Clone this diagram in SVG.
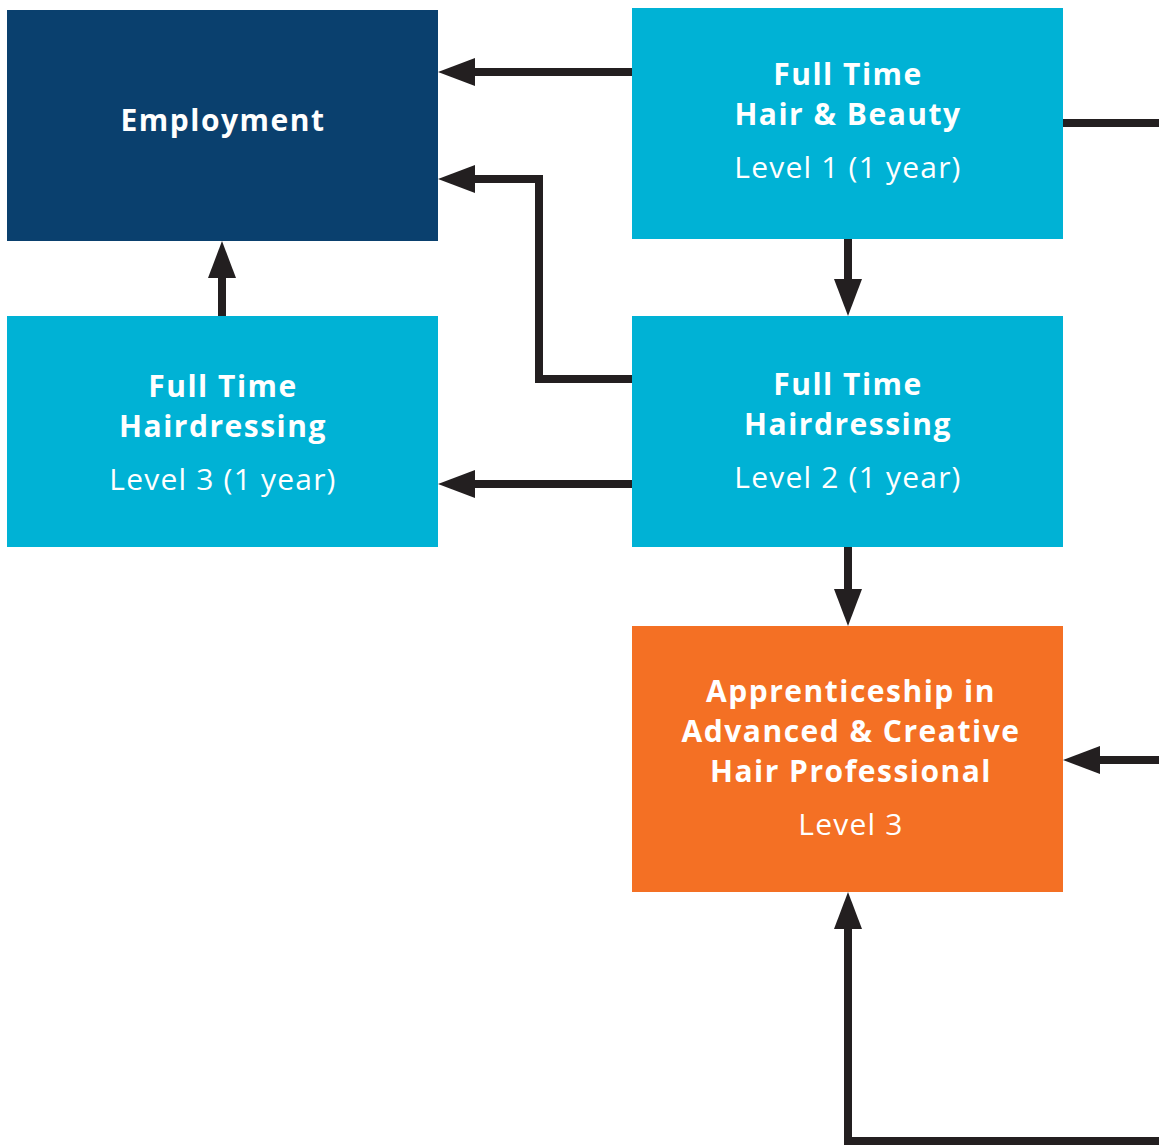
<svg xmlns="http://www.w3.org/2000/svg" width="1159" height="1145" viewBox="0 0 1159 1145">
<style>
.b{font-family:"Open Sans","Liberation Sans",sans-serif;font-weight:700;font-size:30px;letter-spacing:1.5px;fill:#fff;text-anchor:middle}
.l{font-family:"Open Sans","Liberation Sans",sans-serif;font-weight:400;font-size:30px;letter-spacing:1.2px;fill:#fff;text-anchor:middle}
.c{fill:none;stroke:#231f20;stroke-width:8}
</style>
<defs>
<marker id="ah" markerUnits="userSpaceOnUse" markerWidth="38" markerHeight="28" refX="7" refY="14" orient="auto">
<path d="M0,0 L37,14 L0,28 Z" fill="#231f20"/>
</marker>
</defs>
<rect width="1159" height="1145" fill="#fff"/>
<g id="connectors">
<path class="c" d="M632,72 H468" marker-end="url(#ah)"/>
<path class="c" d="M634,379 H539 V179 H468" marker-end="url(#ah)"/>
<path class="c" d="M632,484 H468" marker-end="url(#ah)"/>
<path class="c" d="M222,316 V271" marker-end="url(#ah)"/>
<path class="c" d="M848,239 V286" marker-end="url(#ah)"/>
<path class="c" d="M848,547 V596" marker-end="url(#ah)"/>
<path class="c" d="M1060,123 H1159"/>
<path class="c" d="M1159,760 H1093" marker-end="url(#ah)"/>
<path class="c" d="M1159,1141 H848 V922" marker-end="url(#ah)"/>
</g>
<g id="employment">
<rect x="7" y="10" width="431" height="231" fill="#0a406e"/>
<text class="b" x="223" y="131">Employment</text>
</g>
<g id="hair-beauty-l1">
<rect x="632" y="8" width="431" height="231" fill="#00b2d5"/>
<text class="b" x="848" y="85">Full Time</text>
<text class="b" x="848" y="125">Hair &amp; Beauty</text>
<text class="l" x="848" y="178">Level 1 (1 year)</text>
</g>
<g id="hairdressing-l2">
<rect x="632" y="316" width="431" height="231" fill="#00b2d5"/>
<text class="b" x="848" y="395">Full Time</text>
<text class="b" x="848" y="435">Hairdressing</text>
<text class="l" x="848" y="488">Level 2 (1 year)</text>
</g>
<g id="hairdressing-l3">
<rect x="7" y="316" width="431" height="231" fill="#00b2d5"/>
<text class="b" x="223" y="397">Full Time</text>
<text class="b" x="223" y="437">Hairdressing</text>
<text class="l" x="223" y="490">Level 3 (1 year)</text>
</g>
<g id="apprenticeship">
<rect x="632" y="626" width="431" height="266" fill="#f47024"/>
<text class="b" x="851" y="702">Apprenticeship in</text>
<text class="b" x="851" y="742">Advanced &amp; Creative</text>
<text class="b" x="851" y="782">Hair Professional</text>
<text class="l" x="851" y="835">Level 3</text>
</g>
</svg>
